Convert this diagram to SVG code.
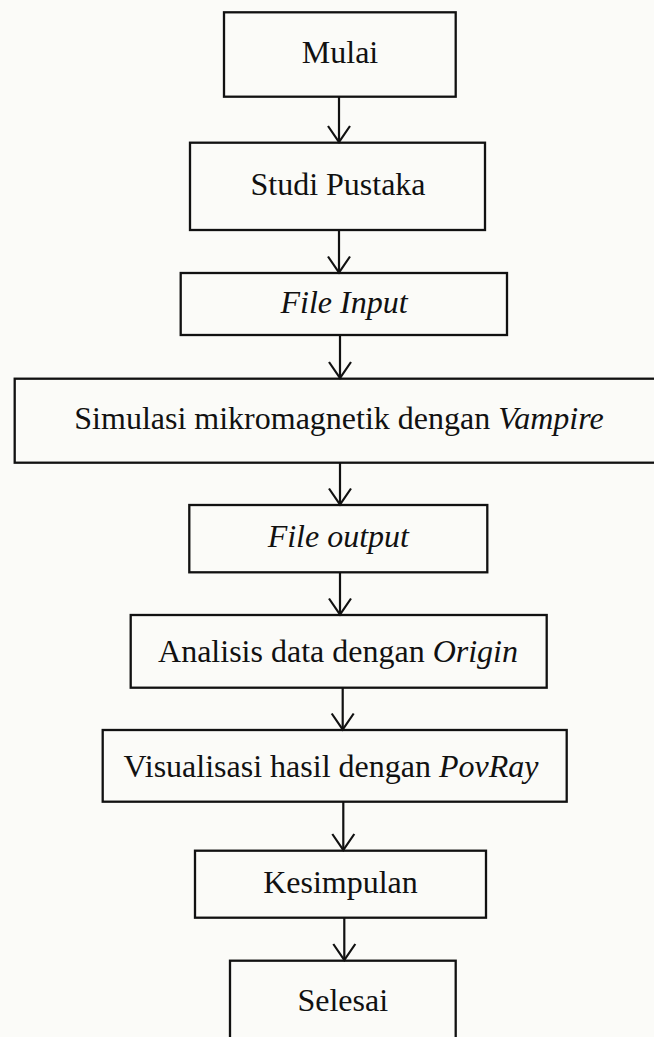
<svg xmlns="http://www.w3.org/2000/svg" width="654" height="1037" viewBox="0 0 654 1037">
<style>
.box{fill:none;stroke:#111;stroke-width:2.3}
.lbl{font-family:"Liberation Serif","Times New Roman",serif;font-size:32px;fill:#111;text-anchor:middle}
.it{font-style:italic}
.con{fill:none;stroke:#111;stroke-width:2.2}
</style>
<defs>
<marker id="v" markerUnits="userSpaceOnUse" markerWidth="40" markerHeight="40" viewBox="-20 -20 40 40" refX="0" refY="0" orient="auto" overflow="visible">
<path d="M-16,-11 L0,0 L-16,11" fill="none" stroke="#111" stroke-width="2.2"/>
</marker>
</defs>
<rect x="0" y="0" width="654" height="1037" fill="#fbfbf8"/>
<g id="connectors">
<path class="con" d="M339,96.7 L339,142" marker-end="url(#v)"/>
<path class="con" d="M339,230 L339,272.5" marker-end="url(#v)"/>
<path class="con" d="M340,335 L340,378" marker-end="url(#v)"/>
<path class="con" d="M340,462.7 L340,504.5" marker-end="url(#v)"/>
<path class="con" d="M340,572.3 L340,614.5" marker-end="url(#v)"/>
<path class="con" d="M342.7,687.7 L342.7,729.5" marker-end="url(#v)"/>
<path class="con" d="M343.3,801.7 L343.3,850" marker-end="url(#v)"/>
<path class="con" d="M344.3,917.7 L344.3,960" marker-end="url(#v)"/>
</g>
<g id="mulai"><rect class="box" x="224" y="12.3" width="231.7" height="84.4"/><text class="lbl" x="340" y="63.3">Mulai</text></g>
<g id="studi-pustaka"><rect class="box" x="190" y="142.7" width="295" height="87.3"/><text class="lbl" x="338" y="195">Studi Pustaka</text></g>
<g id="file-input"><rect class="box" x="180.7" y="273" width="326.3" height="62"/><text class="lbl it" x="344" y="313.3">File Input</text></g>
<g id="simulasi"><rect class="box" x="14.7" y="378.7" width="650" height="84"/><text class="lbl" x="339" y="429">Simulasi mikromagnetik dengan <tspan class="it">Vampire</tspan></text></g>
<g id="file-output"><rect class="box" x="189.3" y="505" width="298" height="67.3"/><text class="lbl it" x="338.3" y="547.3">File output</text></g>
<g id="analisis"><rect class="box" x="130.7" y="615" width="416" height="72.7"/><text class="lbl" x="338" y="661.7">Analisis data dengan <tspan class="it">Origin</tspan></text></g>
<g id="visualisasi"><rect class="box" x="102.7" y="730" width="464" height="71.7"/><text class="lbl" x="331" y="776.7">Visualisasi hasil dengan <tspan class="it">PovRay</tspan></text></g>
<g id="kesimpulan"><rect class="box" x="195" y="850.7" width="291" height="67"/><text class="lbl" x="340.5" y="893.3">Kesimpulan</text></g>
<g id="selesai"><rect class="box" x="230" y="960.7" width="225.7" height="90"/><text class="lbl" x="342.8" y="1010.7">Selesai</text></g>
</svg>
